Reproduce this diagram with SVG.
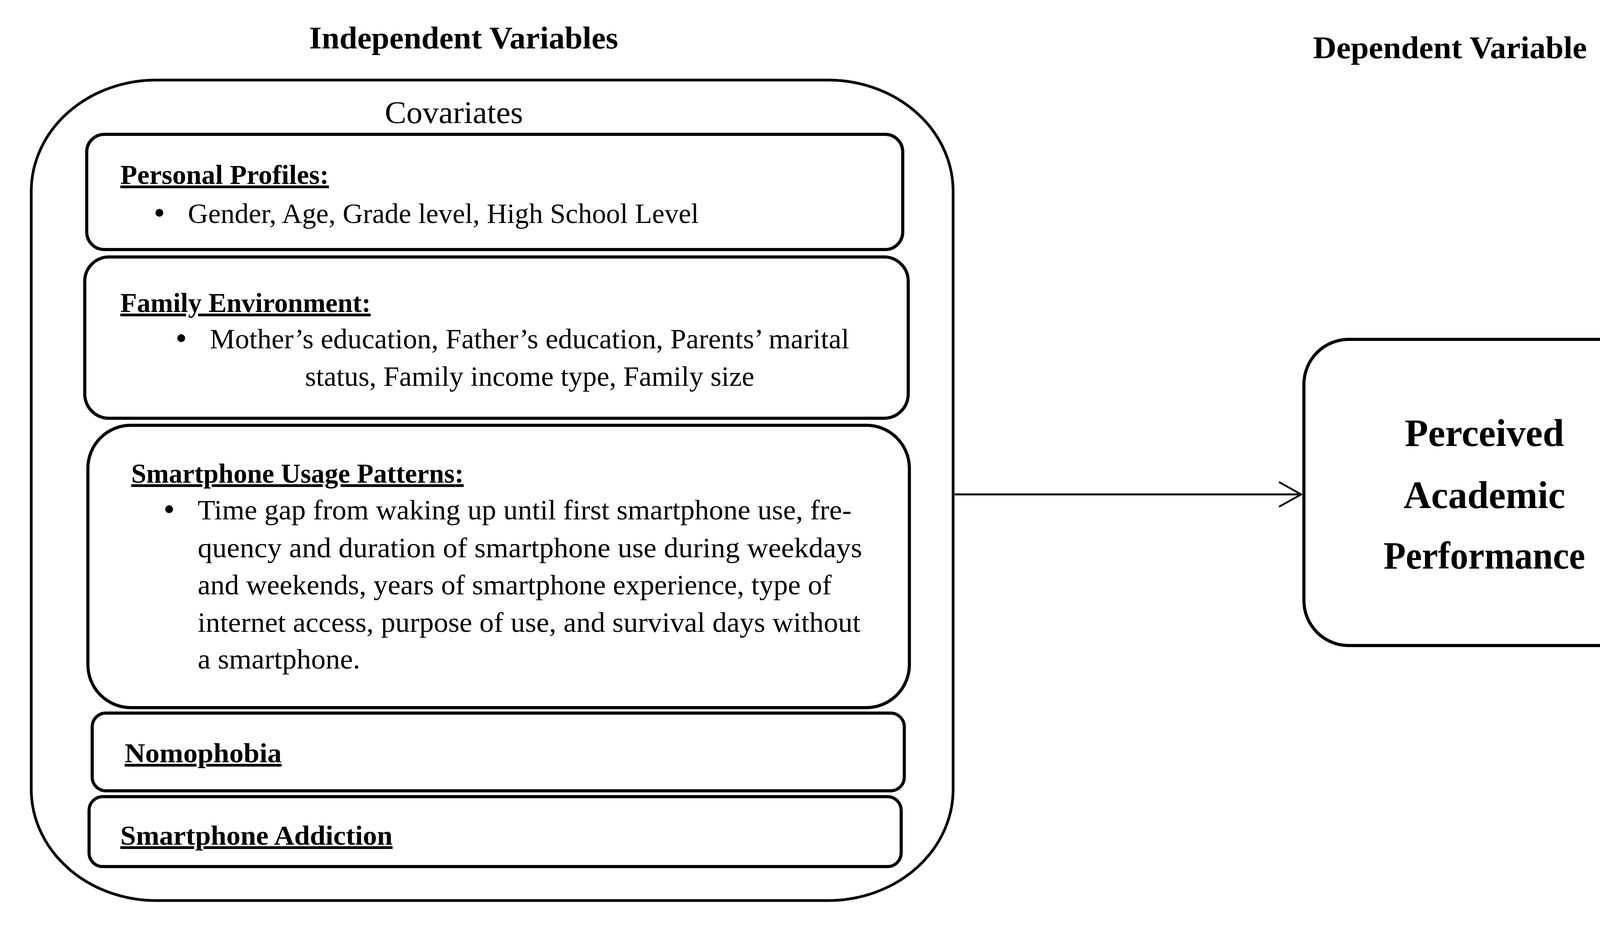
<svg xmlns="http://www.w3.org/2000/svg" width="4406" height="2384" viewBox="0 0 4406 2384">
<style>
text{font-family:"Liberation Serif","Times New Roman",serif;fill:#000}
.title{font-size:80px;font-weight:bold}
.cov{font-size:80px}
.head{font-size:70px;font-weight:bold;text-decoration:underline}
.body{font-size:72px}
.bul{font-size:84px}
.big{font-size:100px;font-weight:bold}
.box{fill:#fff;stroke:#000;stroke-width:8}
.outer{fill:#fff;stroke:#000;stroke-width:7}
.conn{fill:none;stroke:#000;stroke-width:5}
</style>
<defs>
<marker id="open" markerUnits="userSpaceOnUse" markerWidth="70" markerHeight="80" refX="61" refY="34" orient="auto" viewBox="-5 -5 75 80">
<path d="M0,0 L61,34 L0,68" fill="none" stroke="#000" stroke-width="5"/>
</marker>
</defs>
<rect width="4406" height="2384" fill="#fff"/>
<text class="title" x="1187" y="124" text-anchor="middle" textLength="791" lengthAdjust="spacingAndGlyphs">Independent Variables</text>
<text class="title" x="3712" y="149" text-anchor="middle" textLength="701" lengthAdjust="spacingAndGlyphs">Dependent Variable</text>
<g id="independent">
<path class="outer" d="M400,205 H2120 A320,285 0 0 1 2440,490 V2021 A320,285 0 0 1 2120,2306 H400 A320,285 0 0 1 80,2021 V490 A320,285 0 0 1 400,205 Z"/>
<text class="cov" x="1162" y="315" text-anchor="middle" textLength="354" lengthAdjust="spacingAndGlyphs">Covariates</text>
</g>
<g id="personal">
<rect class="box" x="222" y="344" width="2089" height="295" rx="45" ry="45"/>
<text class="head" x="308" y="471" textLength="534" lengthAdjust="spacingAndGlyphs">Personal Profiles:</text>
<text class="bul" x="408" y="573" text-anchor="middle">•</text>
<text class="body" x="481" y="571" textLength="1308" lengthAdjust="spacingAndGlyphs">Gender, Age, Grade level, High School Level</text>
</g>
<g id="family">
<rect class="box" x="217" y="658" width="2108" height="413" rx="62" ry="62"/>
<text class="head" x="308" y="799" textLength="641" lengthAdjust="spacingAndGlyphs">Family Environment:</text>
<text class="bul" x="464" y="894" text-anchor="middle">•</text>
<text class="body" x="537" y="892" textLength="1637" lengthAdjust="spacingAndGlyphs">Mother’s education, Father’s education, Parents’ marital</text>
<text class="body" x="781" y="988" textLength="1150" lengthAdjust="spacingAndGlyphs">status, Family income type, Family size</text>
</g>
<g id="usage">
<rect class="box" x="225" y="1089" width="2103" height="723" rx="110" ry="110"/>
<text class="head" x="336" y="1236" textLength="851" lengthAdjust="spacingAndGlyphs">Smartphone Usage Patterns:</text>
<text class="bul" x="433" y="1332" text-anchor="middle">•</text>
<text class="body" x="506" y="1330" textLength="1674" lengthAdjust="spacingAndGlyphs">Time gap from waking up until first smartphone use, fre-</text>
<text class="body" x="506" y="1427" textLength="1701" lengthAdjust="spacingAndGlyphs">quency and duration of smartphone use during weekdays</text>
<text class="body" x="506" y="1522" textLength="1623" lengthAdjust="spacingAndGlyphs">and weekends, years of smartphone experience, type of</text>
<text class="body" x="506" y="1618" textLength="1697" lengthAdjust="spacingAndGlyphs">internet access, purpose of use, and survival days without</text>
<text class="body" x="506" y="1712" textLength="416" lengthAdjust="spacingAndGlyphs">a smartphone.</text>
</g>
<g id="nomophobia">
<rect class="box" x="236" y="1826" width="2079" height="199" rx="35" ry="35"/>
<text class="head" x="319" y="1952" textLength="402" lengthAdjust="spacingAndGlyphs">Nomophobia</text>
</g>
<g id="addiction">
<rect class="box" x="228" y="2040" width="2079" height="179" rx="35" ry="35"/>
<text class="head" x="308" y="2163" textLength="697" lengthAdjust="spacingAndGlyphs">Smartphone Addiction</text>
</g>
<g id="performance">
<rect class="box" x="3338" y="869" width="972" height="784" rx="115" ry="115"/>
<text class="big" x="3800" y="1142" text-anchor="middle" textLength="408" lengthAdjust="spacingAndGlyphs">Perceived</text>
<text class="big" x="3800" y="1301" text-anchor="middle" textLength="414" lengthAdjust="spacingAndGlyphs">Academic</text>
<text class="big" x="3800" y="1456" text-anchor="middle" textLength="516" lengthAdjust="spacingAndGlyphs">Performance</text>
</g>
<g id="connectors">
<line class="conn" x1="2444" y1="1266" x2="3331" y2="1266" marker-end="url(#open)"/>
</g>
</svg>
